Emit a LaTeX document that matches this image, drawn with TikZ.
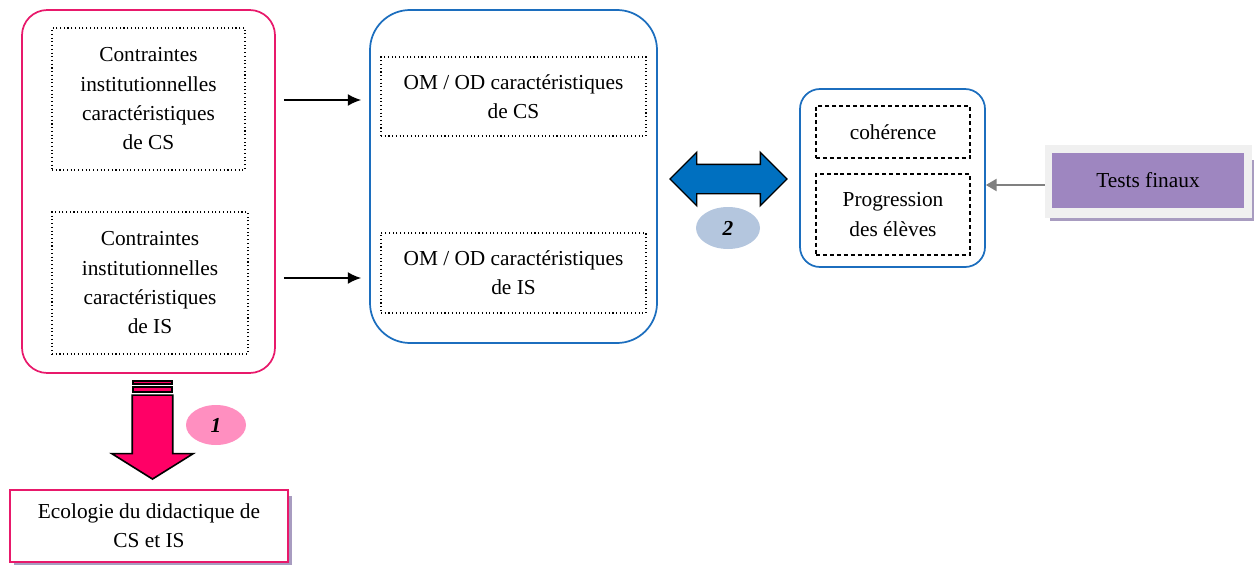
\documentclass[tikz,border=0pt]{standalone}
\usepackage{fontspec}
\setmainfont{Liberation Serif}
\usetikzlibrary{arrows.meta,shapes.arrows,shapes.geometric}
\definecolor{rosebord}{HTML}{E8196B}
\definecolor{rosefleche}{HTML}{FF0066}
\definecolor{roseclair}{HTML}{FF8FC0}
\definecolor{bleubord}{HTML}{1C6EBE}
\definecolor{bleufleche}{HTML}{0070C0}
\definecolor{bleuclair}{HTML}{B4C6DE}
\definecolor{violet}{HTML}{9E86C0}
\definecolor{violetombre}{HTML}{A89CC0}
\begin{document}
\begin{tikzpicture}[x=0.75pt,y=-0.75pt,
	txt/.style={align=center,font=\fontsize{16}{22}\selectfont,inner sep=0pt},
	cadre/.style={draw,rounded corners=#1,line width=1.3pt},
	pointille/.style={txt,draw,dotted,line width=0.8pt},
	tirets/.style={txt,draw,dash pattern=on 3pt off 2.2pt,line width=0.9pt},
	fleche/.style={-{Latex[length=10pt,width=9pt]},line width=1.3pt},
	bulle/.style={ellipse,inner sep=0pt,font=\fontsize{16}{16}\selectfont\bfseries\itshape}]
	\useasboundingbox (0,0) rectangle (1259,564);
	% institutions
	\node[cadre=19pt,draw=rosebord,minimum width=189.75pt,minimum height=272.25pt] (inst) at (148.5,191.5) {};
	\node[pointille,minimum width=144.75pt,minimum height=106.5pt] (contCS) at (148.5,99)
		{Contraintes\\institutionnelles\\caractéristiques\\de CS};
	\node[pointille,minimum width=147pt,minimum height=106.5pt] (contIS) at (150,283)
		{Contraintes\\institutionnelles\\caractéristiques\\de IS};
	% organisations
	\node[cadre=30pt,draw=bleubord,minimum width=215.25pt,minimum height=249.75pt] (org) at (513.5,176.5) {};
	\node[pointille,minimum width=198.75pt,minimum height=59.25pt] (omCS) at (513.5,96.5)
		{OM / OD caractéristiques\\de CS};
	\node[pointille,minimum width=198.75pt,minimum height=60pt] (omIS) at (513.5,273)
		{OM / OD caractéristiques\\de IS};
	\draw[fleche] ([xshift=6pt]inst.east |- 0,100) -- ([xshift=-6pt]org.west |- 0,100);
	\draw[fleche] ([xshift=6pt]inst.east |- 0,278) -- ([xshift=-6pt]org.west |- 0,278);
	% eleves
	\node[cadre=15pt,draw=bleubord,minimum width=138.75pt,minimum height=133.5pt] (bilan) at (892.5,178) {};
	\node[tirets,minimum width=115.5pt,minimum height=39pt] (coh) at (893,132) {cohérence};
	\node[tirets,minimum width=115.5pt,minimum height=60.75pt] (prog) at (893,214.5) {Progression\\des élèves};
	\node[double arrow,draw=black,fill=bleufleche,line width=1pt,minimum height=87.75pt,
		inner sep=10.5pt,double arrow head extend=9pt] (lien) at (728.5,179) {};
	\node[bulle,fill=bleuclair,minimum width=48pt,minimum height=31.5pt] (deux) at (728,228) {2};
	% tests
	\fill[violetombre] (1050,160) rectangle (1254,221);
	\node[fill=black!6,minimum width=155.25pt,minimum height=54.75pt,inner sep=0pt] (cadtest) at (1148.5,181.5) {};
	\node[txt,fill=violet,minimum width=144pt,minimum height=41.25pt] (tests) at (1148,180.5) {Tests finaux};
	\draw[-{Triangle[length=8pt,width=9pt]},line width=1.4pt,black!50] (cadtest.west |- 0,185) -- (bilan.east |- 0,185);
	% ecologie
	\fill[violetombre] (14,496) rectangle (292,565);
	\node[txt,draw=rosebord,fill=white,line width=1.3pt,minimum width=208.5pt,minimum height=54pt] (eco) at (149,526)
		{Ecologie du didactique de\\CS et IS};
	\draw[black,fill=rosefleche,line width=0.8pt] (133,381) rectangle (172,384) (133,387) rectangle (172,392);
	\node[single arrow,draw=black,fill=rosefleche,line width=1.2pt,shape border rotate=270,
		minimum height=63pt,inner sep=14.6pt,single arrow head extend=15.4pt,single arrow tip angle=116,
		anchor=tip] (vers) at (152.5,480) {};
	\node[bulle,fill=roseclair,minimum width=45pt,minimum height=30pt] (un) at (216,425) {1};
\end{tikzpicture}
\end{document}
